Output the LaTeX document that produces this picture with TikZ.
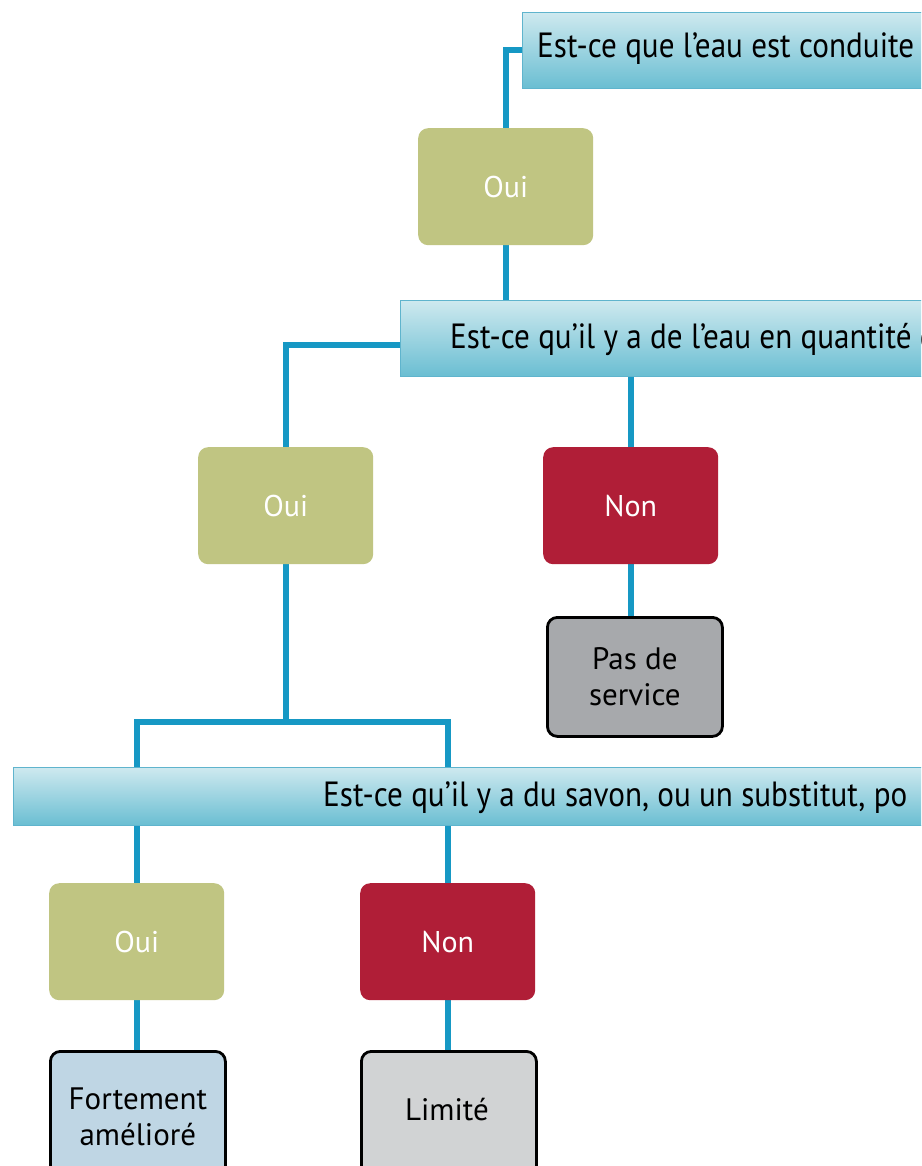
\documentclass[tikz,border=0pt]{standalone}
\usepackage{fontspec}
\setmainfont{PT Sans}
\newfontfamily\banfont[FakeStretch=0.89]{PT Sans}
\usetikzlibrary{calc}
\pgfdeclarelayer{bg}
\pgfsetlayers{bg,main}
\definecolor{conncol}{RGB}{22,152,196}
\definecolor{olive}{RGB}{192,197,130}
\definecolor{wine}{RGB}{176,30,55}
\definecolor{midgray}{RGB}{167,169,172}
\definecolor{lightblue}{RGB}{191,214,228}
\definecolor{lightgray}{RGB}{209,211,212}
\definecolor{bantop}{RGB}{206,233,239}
\definecolor{banbot}{RGB}{106,190,210}
\definecolor{banedge}{RGB}{95,180,205}
\tikzset{
  conn/.style={draw=conncol, line width=6pt},
  banner/.style={anchor=north west, minimum height=76pt, top color=bantop, bottom color=banbot,
    draw=banedge, line width=0.6pt, inner sep=0pt},
  qtext/.style={anchor=base west, text=black, font=\banfont\fontsize{35}{40}\selectfont, inner sep=0pt},
  answer/.style={rounded corners=10pt, minimum width=175pt, minimum height=117pt, text=white,
    font=\fontsize{30}{36}\selectfont, anchor=north west},
  result/.style={rounded corners=10pt, minimum width=175pt, minimum height=119pt, draw=black,
    line width=2.8pt, text=black, align=center, font=\fontsize{31}{36}\selectfont, anchor=north west}
}
\begin{document}
\begin{tikzpicture}[x=1pt,y=-1pt]
\useasboundingbox (0,0) rectangle (921,1166);
\clip (0,0) rectangle (921,1166);
\begin{pgfonlayer}{bg}
\fill[white] (0,0) rectangle (921,1166);
\end{pgfonlayer}
% banners
\node[banner, minimum width=500pt] (q1) at (522,12) {};
\node[qtext] (q1t) at (537,58) {Est-ce que l’eau est conduite};
\node[banner, minimum width=600pt] (q2) at (400,300) {};
\node[qtext] (q2t) at (450,348) {Est-ce qu’il y a de l’eau en quantité d};
\node[banner, minimum height=58pt, minimum width=1000pt] (q3) at (13,767) {};
\node[qtext] (q3t) at (323,806) {Est-ce qu’il y a du savon, ou un substitut, po};
% answers
\node[answer, fill=olive] (o1) at (418,128) {Oui};
\node[answer, fill=olive] (o2) at (198,447) {Oui};
\node[answer, fill=wine] (n2) at (543,447) {Non};
\node[answer, fill=olive] (o3) at (49,883) {Oui};
\node[answer, fill=wine] (n3) at (360,883) {Non};
% results
\node[result, fill=midgray] (r2) at (546,616) {Pas de\\service};
\node[result, fill=lightblue, minimum height=130pt] (r3a) at (49,1050) {Fortement\\amélioré};
\node[result, fill=lightgray, minimum height=130pt] (r3b) at (360,1050) {};
\node[text=black, font=\fontsize{31}{36}\selectfont] (r3bt) at (447,1110) {Limité};
\coordinate (j) at ($(o2.south)+(0,158)$);
\begin{pgfonlayer}{bg}
\draw[conn] (q1.west) -| (o1.north);
\draw[conn] (o1.south) -- (o1.south |- q2.north);
\draw[conn] ($(q2.west)+(0,7)$) -| (o2.north);
\draw[conn] (n2.north |- q2.south) -- (n2.north);
\draw[conn] (n2.south) -- (r2.north -| n2.south);
\draw[conn] (o2.south) -- (j);
\draw[conn] (o3.north) -- (o3.north |- j) -- (n3.north |- j) -- (n3.north);
\draw[conn] (o3.south) -- (r3a.north -| o3.south);
\draw[conn] (n3.south) -- (r3b.north -| n3.south);
\end{pgfonlayer}
\end{tikzpicture}
\end{document}
